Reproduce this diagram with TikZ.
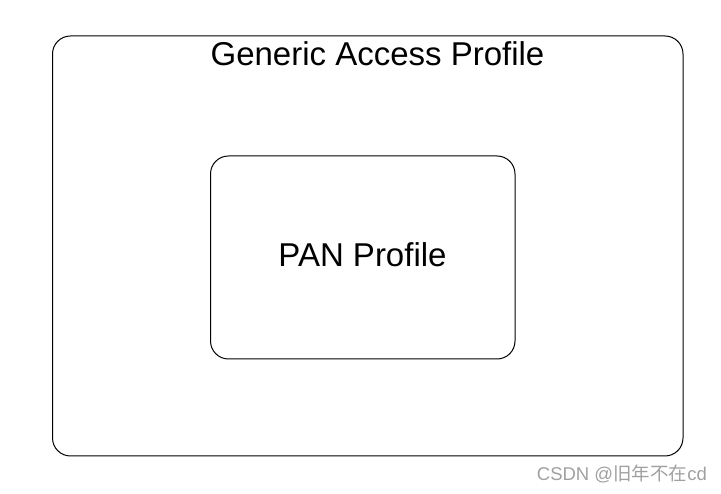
\documentclass[tikz,border=0pt]{standalone}
\usepackage{fontspec}
\setmainfont{Liberation Sans}
\newfontfamily\cjk{Noto Sans CJK SC}
\definecolor{wmgray}{RGB}{160,160,160}
\begin{document}
\begin{tikzpicture}[x=1pt,y=1pt,
  profbox/.style={draw=black,line width=1pt,rounded corners=18pt},
  label/.style={font=\fontsize{33}{37}\selectfont,inner sep=0pt}]
\useasboundingbox (0,0) rectangle (721,494);
\draw[profbox] (52.5,38) rectangle (683,458);
\draw[profbox] (210.5,135) rectangle (515,338);
\node[label] (gap) at (377.5,440) {Generic Access Profile};
\node[label] (pan) at (362.5,239) {PAN Profile};
\node[text=wmgray,font=\fontsize{18.5}{20}\selectfont,inner sep=0pt,anchor=east] (wm) at (707,20) {CSDN @{\cjk 旧年不在}cd};
\end{tikzpicture}
\end{document}
